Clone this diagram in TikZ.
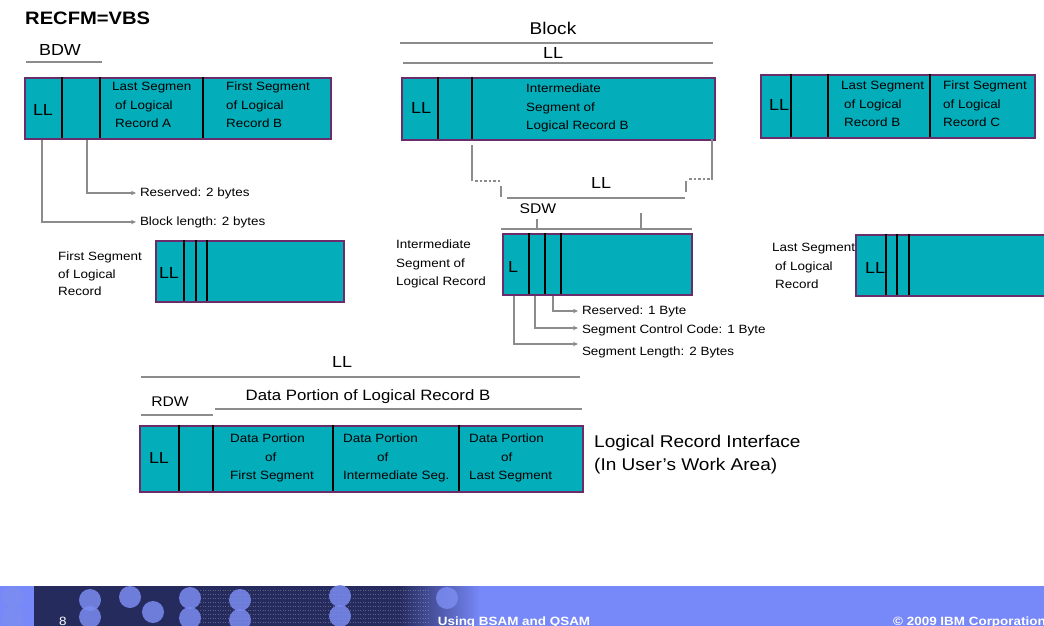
\documentclass[tikz,border=0pt]{standalone}
\usepackage{fontspec}
\setmainfont{Liberation Sans}[FakeStretch=1.12]
\usetikzlibrary{arrows.meta, positioning, calc}
\definecolor{recfill}{HTML}{03ADB9}
\definecolor{recedge}{HTML}{6B2C6B}
\definecolor{rulegray}{HTML}{8C8C8C}
\definecolor{band}{HTML}{7788F8}
\definecolor{bandnavy}{HTML}{262B5E}
\definecolor{bandspot}{HTML}{7B8CF0}
\newcommand{\fs}[2]{\fontsize{#1}{#2}\selectfont}

\begin{document}
\begin{tikzpicture}[x=1pt, y=-1pt, >={Stealth[length=5pt, width=4.5pt]},
  record/.style={draw=recedge, fill=recfill, line width=2pt, inner sep=0pt, anchor=north west},
  divider/.style={black, line width=2.4pt},
  gline/.style={rulegray, line width=2.4pt},
  gdots/.style={rulegray, line width=2.4pt, dash pattern=on 2.5pt off 2pt},
  conn/.style={rulegray, line width=2pt, ->},
  boxtxt/.style={font=\fs{12}{18.5}, align=left, inner sep=0pt, anchor=west},
  fieldtag/.style={font=\fs{16}{18}, inner sep=0pt},
  note/.style={font=\fs{12}{14}, inner sep=0pt, outer xsep=4pt, anchor=west}]

\useasboundingbox (0,0) rectangle (1044,626);

% Title
\node[font=\fs{18}{20}\bfseries, anchor=west, inner sep=0pt] (title) at (25,18) {RECFM=VBS};

% ---- block: last segment of A, first segment of B ----
\node[fieldtag] (bdw) at (60,50) {BDW};
\draw[gline] (26,62) -- (102,62);
\node[record, minimum width=306pt, minimum height=61pt] (blkA) at (24,77) {};
\foreach \dx in {62,100,203} \draw[divider] (\dx,77) -- (\dx,138);
\node[fieldtag] (blkAll) at (43,110) {LL};
\node[boxtxt] (blkAlast) at (112,105) {Last Segmen\\\hspace*{3pt}of Logical\\\hspace*{3pt}Record A};
\node[boxtxt] (blkAfirst) at (226,105) {First Segment\\of Logical\\Record B};

% BDW fields
\coordinate (blkAlen) at ([xshift=18pt]blkA.south west);
\coordinate (blkAres) at ([xshift=63pt]blkA.south west);
\node[note] (resA) at (136,193) {Reserved: 2 bytes};
\node[note] (lenA) at (136,222) {Block length: 2 bytes};
\draw[conn] (blkAres) |- (resA.west);
\draw[conn] (blkAlen) |- (lenA.west);

% ---- block: intermediate segment of B ----
\node[fieldtag, font=\fs{17}{20}] (blocklbl) at (553,28) {Block};
\draw[gline] (400,43) -- (713,43);
\node[fieldtag] (blkBll) at (553,53) {LL};
\draw[gline] (403,63) -- (713,63);
\node[record, minimum width=313pt, minimum height=62pt] (blkB) at (401,77) {};
\foreach \dx in {438,472} \draw[divider] (\dx,77) -- (\dx,139);
\node[fieldtag] (blkBllin) at (421,108) {LL};
\node[boxtxt] (blkBmid) at (526,108) {Intermediate\\Segment of\\Logical Record B};

% segment bracket (LL of the segment)
\draw[gline] (472,145) -- (472,181);
\draw[gdots] (475,181) -- (500,181);
\draw[gline] (501,186) -- (501,197);
\draw[gline] (507,198) -- (685,198);
\draw[gline] (686,181) -- (686,192);
\draw[gdots] (689,179) -- (710,179);
\draw[gline] (712,139) -- (712,180);
\node[fieldtag] (segll) at (601,183) {LL};

% ---- block: last segment of B, first segment of C ----
\node[record, minimum width=274pt, minimum height=63pt] (blkC) at (760,74) {};
\foreach \dx in {791,828,930} \draw[divider] (\dx,74) -- (\dx,137);
\node[fieldtag] (blkCll) at (779,105) {LL};
\node[boxtxt] (blkClast) at (841,104) {Last Segment\\\hspace*{3pt}of Logical\\\hspace*{3pt}Record B};
\node[boxtxt] (blkCfirst) at (943,104) {First Segment\\of Logical\\Record C};

% ---- segments ----
% first
\node[boxtxt, font=\fs{12}{17.5}] (segFlbl) at (58,274) {First Segment\\of Logical\\Record};
\node[record, minimum width=188pt, minimum height=61pt] (segF) at (155,240) {};
\foreach \dx in {184,196,207} \draw[divider] (\dx,240) -- (\dx,301);
\node[fieldtag] (segFll) at (169,273) {LL};

% intermediate
\node[fieldtag, font=\fs{14}{16}] (sdw) at (538,209) {SDW};
\draw[gline] (501,229) -- (692,229);
\draw[gline] (537,219) -- (537,229);
\draw[gline] (641,213) -- (641,229);
\node[boxtxt, font=\fs{12}{18.5}] (segIlbl) at (396,264) {Intermediate\\Segment of\\Logical Record};
\node[record, minimum width=189pt, minimum height=61pt] (segI) at (502,233) {};
\foreach \dx in {529,545,561} \draw[divider] (\dx,233) -- (\dx,294);
\node[fieldtag] (segIl) at (513,267) {L};

% SDW fields
\coordinate (segIlen) at ([xshift=12pt]segI.south west);
\coordinate (segIscc) at ([xshift=33pt]segI.south west);
\coordinate (segIres) at ([xshift=51pt]segI.south west);
\node[note] (resI) at (578,311) {Reserved: 1 Byte};
\node[note] (sccI) at (578,330) {Segment Control Code: 1 Byte};
\node[note] (lenI) at (578,352) {Segment Length: 2 Bytes};
\draw[conn] (segIres) |- (resI.west);
\draw[conn] (segIscc) |- ([yshift=2pt]sccI.west);
\draw[conn] (segIlen) |- ([yshift=8pt]lenI.west);

% last
\node[boxtxt, font=\fs{12}{18.5}] (segLlbl) at (772,266) {Last Segment\\\hspace*{3pt}of Logical\\\hspace*{3pt}Record};
\node[record, minimum width=200pt, minimum height=61pt] (segL) at (855,234) {};
\foreach \dx in {886,897,909} \draw[divider] (\dx,234) -- (\dx,295);
\node[fieldtag] (segLll) at (875,268) {LL};

% ---- logical record interface ----
\node[fieldtag] (recll) at (342,362) {LL};
\draw[gline] (141,377) -- (580,377);
\node[fieldtag, font=\fs{14}{16}] (rdw) at (170,402) {RDW};
\draw[gline] (141,415) -- (213,415);
\node[fieldtag, font=\fs{15}{17}] (recdata) at (368,397) {Data Portion of Logical Record B};
\draw[gline] (215,409) -- (582,409);
\node[record, minimum width=443pt, minimum height=66pt] (lrec) at (139,425) {};
\foreach \dx in {179,213,333,459} \draw[divider] (\dx,425) -- (\dx,491);
\node[fieldtag] (lrecll) at (159,458) {LL};
\node[boxtxt] (lrecF) at (230,458) {Data Portion\\\hspace*{35pt}of\\First Segment};
\node[boxtxt] (lrecI) at (343,458) {Data Portion\\\hspace*{34pt}of\\Intermediate Seg.};
\node[boxtxt] (lrecL) at (469,458) {Data Portion\\\hspace*{32pt}of\\Last Segment};
\node[boxtxt, font=\fs{17}{23}] (lrilbl) at (594,455) {Logical Record Interface\\(In User{\char"0027}s Work Area)};

% ---- footer band ----
\fill[band] (0,586) rectangle (1044,626);
\fill[bandnavy] (34,586) rectangle (400,626);
\shade[left color=bandnavy, right color=band] (399,586) rectangle (480,626);
\foreach \ly in {590,594,...,622}
  \draw[white, opacity=.25, line width=.8pt, dash pattern=on 1pt off 1.5pt] (200,\ly) -- (430,\ly);
\foreach \cx/\cy in {13/597,13/617,90/600,90/617,130/597,153/612,190/598,190/618,240/600,240/620,340/596,340/616,447/598} 
  \fill[bandspot, opacity=.85] (\cx,\cy) circle[radius=11pt];
\node[font=\fs{12}{14}, text=white, anchor=base west, inner sep=0pt] (pgno) at (59,625) {8};
\node[font=\fs{12}{14}\bfseries, text=white, anchor=base, inner sep=0pt] (ftitle) at (514,625) {Using BSAM and QSAM};
\node[font=\fs{12}{14}\bfseries, text=white, anchor=base west, inner sep=0pt] (fcopy) at (893,625) {© 2009 IBM Corporation};

\end{tikzpicture}
\end{document}
